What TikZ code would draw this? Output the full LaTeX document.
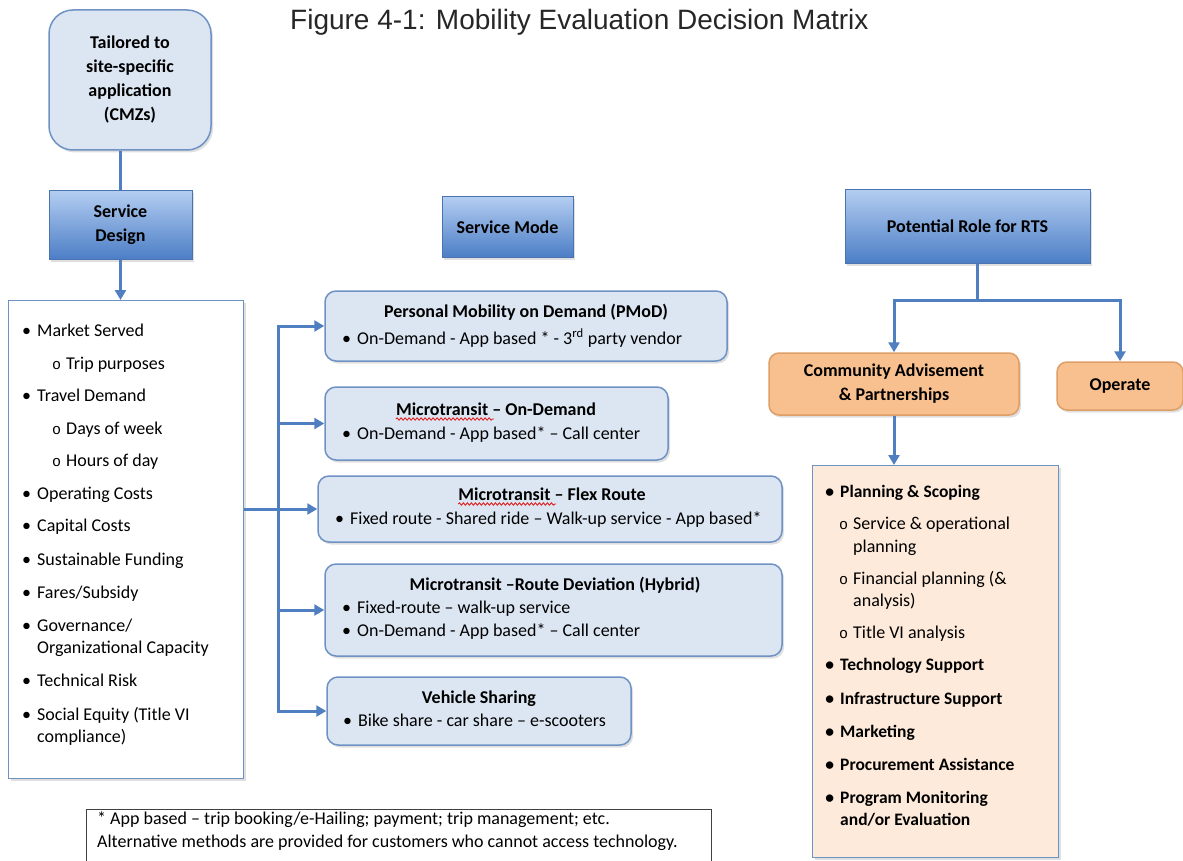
\documentclass[tikz,border=0pt]{standalone}
\usepackage{fontspec}
\setmainfont{Carlito}
\newfontfamily\titlefont{Liberation Sans}
\newfontfamily\circfont{Liberation Mono}
\usetikzlibrary{arrows.meta,shadows,decorations.pathmorphing}

\definecolor{bluefill}{HTML}{DCE6F2}
\definecolor{blueline}{HTML}{6F92C4}
\definecolor{headtop}{HTML}{B3CDF1}
\definecolor{headbot}{HTML}{4C7EC6}
\definecolor{headline}{HTML}{4A74B0}
\definecolor{orangefill}{HTML}{F9C08F}
\definecolor{orangeline}{HTML}{DE9E67}
\definecolor{peach}{HTML}{FDEADA}
\definecolor{connblue}{HTML}{4F7FC0}
\definecolor{spellred}{HTML}{E02020}

\newcommand{\mainbul}{\llap{\textbullet\hspace{6pt}}}
\newcommand{\subbul}{\llap{{\circfont\fontsize{15}{15}\selectfont o}\hspace{5pt}}}

\tikzset{
  softshadow/.style={drop shadow={shadow xshift=2pt, shadow yshift=-2.5pt, opacity=0.25}},
  tailorbox/.style={rounded corners=24pt, draw=blueline, line width=1.5pt, fill=bluefill,
    align=center, font=\bfseries\fontsize{18}{24}\selectfont, softshadow},
  headbox/.style={draw=headline, line width=1pt, top color=headtop, bottom color=headbot,
    align=center, font=\bfseries\fontsize{18}{24}\selectfont, softshadow},
  modebox/.style={rounded corners=11pt, draw=blueline, line width=1.5pt, fill=bluefill, softshadow},
  rolebox/.style={rounded corners=10pt, draw=orangeline, line width=1.5pt, fill=orangefill,
    align=center, font=\bfseries\fontsize{18}{24}\selectfont, softshadow},
  listbox/.style={draw=blueline, line width=1.2pt, fill=white, softshadow},
  planbox/.style={draw=blueline, line width=1.2pt, fill=peach, softshadow},
  notebox/.style={draw=black!75, line width=1.2pt, fill=white},
  item/.style={anchor=west, inner sep=0pt, text height=12pt, text depth=4pt,
    font=\fontsize{18}{22}\selectfont},
  bitem/.style={item, font=\bfseries\fontsize{17.5}{22}\selectfont},
  modetitle/.style={inner sep=0pt, text height=12pt, text depth=4pt,
    font=\bfseries\fontsize{18}{22}\selectfont},
  spell/.style={spellred, line width=0.9pt, decorate,
    decoration={snake, amplitude=1.2pt, segment length=4pt}},
  conn/.style={draw=connblue, line width=3pt},
  arr/.style={conn, -{Triangle[length=10pt,width=11pt]}},
}

\begin{document}
\begin{tikzpicture}[x=1pt, y=-1pt]
\useasboundingbox (0,0) rectangle (1183,861);

\node[anchor=base west, inner sep=0pt, text=black!85,
  font=\titlefont\fontsize{28}{30}\selectfont] (title) at (290,30)
  {Figure 4-1: Mobility Evaluation Decision Matrix};

% service design column
\node[tailorbox, minimum width=162pt, minimum height=140pt] (tailor) at (130,80)
  {Tailored to\\site-specific\\application\\(CMZs)};
\node[headbox, minimum width=143pt, minimum height=68pt] (sd) at (120.5,225) {Service\\Design};
\node[listbox, minimum width=235pt, minimum height=478pt, anchor=north west] (design) at (8,300) {};

\node[item] (d1) at (37,332) {\mainbul Market Served};
\node[item] (d2) at (66,365) {\subbul Trip purposes};
\node[item] (d3) at (37,397) {\mainbul Travel Demand};
\node[item] (d4) at (66,430) {\subbul Days of week};
\node[item] (d5) at (66,462) {\subbul Hours of day};
\node[item] (d6) at (37,495) {\mainbul Operating Costs};
\node[item] (d7) at (37,527) {\mainbul Capital Costs};
\node[item] (d8) at (37,561) {\mainbul Sustainable Funding};
\node[item] (d9) at (37,594) {\mainbul Fares/Subsidy};
\node[item] (d10) at (37,627) {\mainbul Governance/};
\node[item] (d11) at (37,649) {Organizational Capacity};
\node[item] (d12) at (37,682) {\mainbul Technical Risk};
\node[item] (d13) at (37,716) {\mainbul Social Equity (Title VI};
\node[item] (d14) at (37,738) {compliance)};

% service mode column
\node[headbox, minimum width=131pt, minimum height=60pt] (mode) at (507.5,227) {Service Mode};

\node[modebox, minimum width=402pt, minimum height=70pt] (pmod) at (526,326) {};
\node[modetitle] (pmodt) at (526,313) {Personal Mobility on Demand (PMoD)};
\node[item] (pmod1) at (357,340) {\mainbul On-Demand - App based * - 3\textsuperscript{rd} party vendor};

\node[modebox, minimum width=343pt, minimum height=73pt] (ondem) at (496.5,423.5) {};
\node[modetitle] (ondemt) at (496,411) {Microtransit -- On-Demand};
\node[item] (ondem1) at (357,435) {\mainbul On-Demand - App based* -- Call center};

\node[modebox, minimum width=464pt, minimum height=66pt] (flex) at (550,509) {};
\node[modetitle] (flext) at (552,496) {Microtransit -- Flex Route};
\node[item] (flex1) at (350,520) {\mainbul Fixed route - Shared ride -- Walk-up service - App based*};

\node[modebox, minimum width=457pt, minimum height=92pt] (hybrid) at (553.5,610) {};
\node[modetitle] (hybridt) at (555,586) {Microtransit --Route Deviation (Hybrid)};
\node[item] (hybrid1) at (357,609) {\mainbul Fixed-route -- walk-up service};
\node[item] (hybrid2) at (357,632) {\mainbul On-Demand - App based* -- Call center};

\node[modebox, minimum width=304pt, minimum height=68pt] (share) at (479,711) {};
\node[modetitle] (sharet) at (479,699) {Vehicle Sharing};
\node[item] (share1) at (358,722) {\mainbul Bike share - car share -- e-scooters};

% spelling marks under Microtransit
\draw[spell] (ondemt.base west) ++(0,4) -- ++(98,0);
\draw[spell] (flext.base west) ++(0,4) -- ++(98,0);

% role column
\node[headbox, minimum width=245pt, minimum height=73pt] (role) at (967.5,226.5) {Potential Role for RTS};
\node[rolebox, minimum width=250pt, minimum height=62pt] (comm) at (894,384)
  {Community Advisement\\\& Partnerships};
\node[rolebox, minimum width=126pt, minimum height=48pt] (operate) at (1120,386) {Operate};
\node[planbox, minimum width=246pt, minimum height=392pt, anchor=north west] (plan) at (812,465) {};

\node[bitem] (p1) at (840,493) {\mainbul Planning \& Scoping};
\node[item] (p2) at (853,525) {\subbul Service \& operational};
\node[item] (p3) at (853,548) {planning};
\node[item] (p4) at (853,580) {\subbul Financial planning (\&};
\node[item] (p5) at (853,602) {analysis)};
\node[item] (p6) at (853,634) {\subbul Title VI analysis};
\node[bitem] (p7) at (840,666) {\mainbul Technology Support};
\node[bitem] (p8) at (840,700) {\mainbul Infrastructure Support};
\node[bitem] (p9) at (840,733) {\mainbul Marketing};
\node[bitem] (p10) at (840,766) {\mainbul Procurement Assistance};
\node[bitem] (p11) at (840,799) {\mainbul Program Monitoring};
\node[bitem] (p12) at (840,821) {and/or Evaluation};

% footnote
\node[notebox, minimum width=625pt, minimum height=62pt, anchor=north west] (note) at (86,809) {};
\node[item] (note1) at (97,820) {* App based -- trip booking/e-Hailing; payment; trip management; etc.};
\node[item] (note2) at (97,843) {Alternative methods are provided for customers who cannot access technology.};

% connectors
\draw[conn] (sd.north) -- (sd.north |- tailor.south);
\draw[arr] (sd.south) -- (sd.south |- design.north);
\coordinate (trunk) at (278,0);
\draw[conn, line cap=rect] (trunk |- pmod.west) -- (trunk |- share.west);
\foreach \m in {pmod,ondem,hybrid,share}
  \draw[arr] (trunk |- \m.west) -- (\m.west);
\draw[arr] (design.east |- flex.west) -- (flex.west);

\coordinate (split) at (977,300);
\draw[conn] (split |- role.south) -- (split);
\draw[arr] (split) -| (comm.north);
\draw[arr] (split) -| (operate.north);
\draw[arr] (comm.south) -- (comm.south |- plan.north);
\end{tikzpicture}
\end{document}
